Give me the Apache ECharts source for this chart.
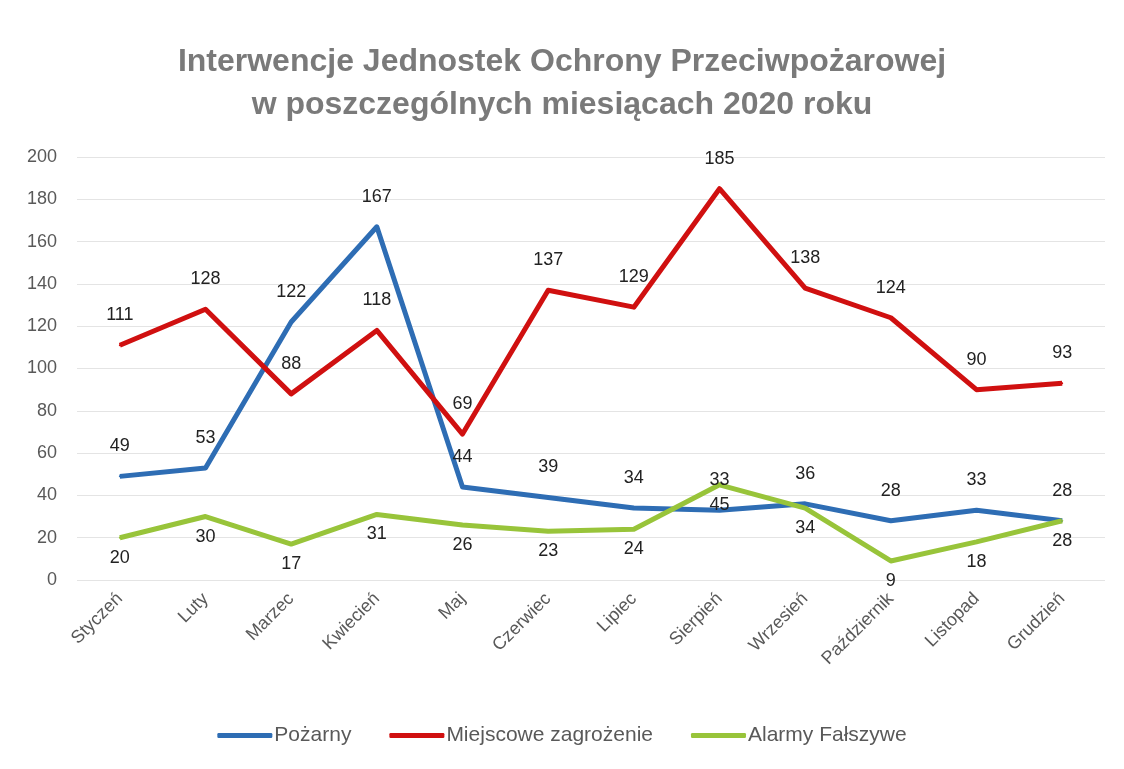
<!DOCTYPE html>
<html>
<head>
<meta charset="utf-8">
<script src="https://cdn.jsdelivr.net/npm/echarts@6/dist/echarts.min.js"></script>
<style>
  html, body { margin: 0; padding: 0; background: #fff; }
  #chart { width: 1124px; height: 769px; }
</style>
</head>
<body>
<div id="chart"></div>
<script>
  // miesiące
  var months = ['Styczeń', 'Luty', 'Marzec', 'Kwiecień', 'Maj', 'Czerwiec', 'Lipiec',
    'Sierpień', 'Wrzesień', 'Październik', 'Listopad', 'Grudzień']
  var pozarny = [49, 53, 122, 167, 44, 39, 34, 33, 36, 28, 33, 28]
  var miejscowe = [111, 128, 88, 118, 69, 137, 129, 185, 138, 124, 90, 93]
  var alarmy = [20, 30, 17, 31, 26, 23, 24, 45, 34, 9, 18, 28]

  var font = '"Liberation Sans", "Open Sans", sans-serif'
  var chart = echarts.init(document.getElementById('chart'))

  function lineSeries(name, data, color, pos, dist) {
    return {
      name: name,
      type: 'line',
      data: data,
      // maly symbol, zeby etykiety byly widoczne
      symbol: 'circle',
      symbolSize: 2,
      showSymbol: true,
      lineStyle: { width: 5, color: color, join: 'round' },
      itemStyle: { color: color },
      label: {
        show: true,
        position: pos,
        distance: dist,
        color: '#222',
        fontSize: 18,
        fontFamily: font
      },
      labelLayout: { hideOverlap: false },
      z: 3
    }
  }

  var option = {
    animation: false,
    backgroundColor: '#fff',
    title: {
      text: 'Interwencje Jednostek Ochrony Przeciwpożarowej\nw poszczególnych miesiącach 2020 roku',
      left: 'center',
      top: 36,
      textStyle: {
        color: '#7a7a7a',
        fontSize: 32,
        fontWeight: 'bold',
        fontFamily: font,
        lineHeight: 43
      }
    },
    legend: {
      bottom: 18,
      left: 'center',
      itemWidth: 55,
      itemHeight: 5,
      itemGap: 38,
      icon: 'roundRect',
      textStyle: { color: '#595959', fontSize: 21, fontFamily: font, padding: [0, 0, 0, -3] },
      data: ['Pożarny', 'Miejscowe zagrożenie', 'Alarmy Fałszywe']
    },
    grid: { left: 77, right: 19, top: 157, bottom: 189 },
    xAxis: {
      type: 'category',
      data: months,
      boundaryGap: true,
      axisLine: { show: false },
      axisTick: { show: false },
      axisLabel: {
        rotate: 45,
        interval: 0,
        margin: 16,
        color: '#595959',
        fontSize: 18,
        fontFamily: font
      }
    },
    yAxis: {
      type: 'value',
      min: 0,
      max: 200,
      interval: 20,
      axisLine: { show: false },
      axisTick: { show: false },
      axisLabel: { color: '#595959', fontSize: 18, fontFamily: font, margin: 20 },
      splitLine: { lineStyle: { color: '#e4e4e4', width: 1 } }
    },
    series: [
      lineSeries('Pożarny', pozarny, '#2e6db4', 'top', 20),
      lineSeries('Miejscowe zagrożenie', miejscowe, '#d01010', 'top', 20),
      lineSeries('Alarmy Fałszywe', alarmy, '#98c43a', 'bottom', 10)
    ]
  }
  chart.setOption(option)
</script>
</body>
</html>
